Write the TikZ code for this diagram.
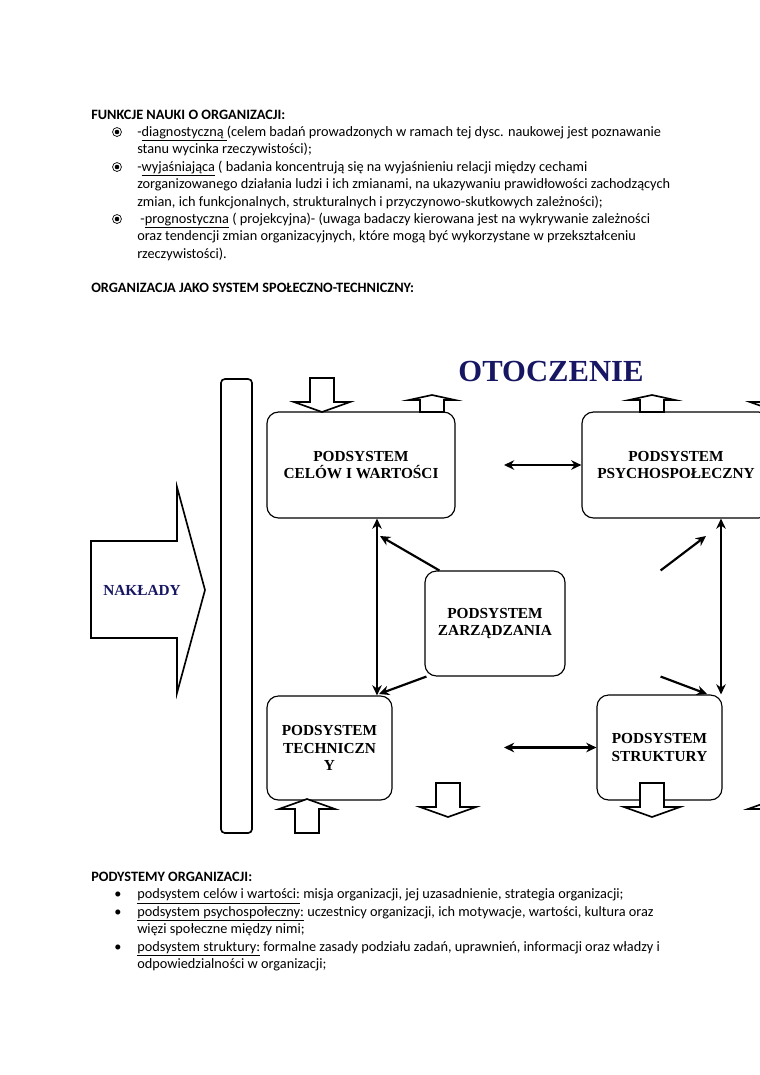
\documentclass[tikz,border=0pt]{standalone}
\usepackage{fontspec}
\setmainfont{Carlito}
\newfontfamily\tnr{Liberation Serif}
\usetikzlibrary{arrows.meta, positioning, calc}
\definecolor{otnavy}{RGB}{22,22,98}

\begin{document}
\begin{tikzpicture}[x=0.7833pt, y=-0.7833pt,
  txt/.style={anchor=base west, inner sep=0pt, font=\fontsize{11.2pt}{13.4pt}\selectfont},
  head/.style={txt, font=\fontsize{11.2pt}{13.4pt}\selectfont\bfseries},
  circbul/.style={circle, draw, line width=0.55pt, minimum size=7pt, inner sep=0pt, path picture={\fill (path picture bounding box.center) circle (1.8pt);}},
  sub/.style={rectangle, rounded corners=9pt, draw, line width=0.9pt, align=center, font=\tnr\fontsize{12pt}{14pt}\selectfont\bfseries},
  dbl/.style={{Stealth[length=8pt, width=7.5pt]}-{Stealth[length=8pt, width=7.5pt]}, line width=1.7pt},
  arr/.style={-{Stealth[length=8pt, width=7.5pt]}, line width=1.7pt},
  blk/.style={draw, fill=white, line width=1.3pt, line join=miter}
]
\useasboundingbox (0,0) rectangle (760,1075);
\clip (0,0) rectangle (760,1075);
% functions
\node[head] (h1) at (91,119.5) {FUNKCJE NAUKI O ORGANIZACJI:};
\foreach \y [count=\i] in {132,167,219}
  \node[circbul] (b\i) at (117,\y) {};
\node[txt] (f1) at (137,136.5) {-\underline{diagnostyczną }(celem badań prowadzonych w ramach tej dysc. naukowej jest poznawanie};
\node[txt] (f2) at (137,153.9) {stanu wycinka rzeczywistości);};
\node[txt] (f3) at (137,171.3) {-\underline{wyjaśniająca} ( badania koncentrują się na wyjaśnieniu relacji między cechami};
\node[txt] (f4) at (137,188.7) {zorganizowanego działania ludzi i ich zmianami, na ukazywaniu prawidłowości zachodzących};
\node[txt] (f5) at (137,206.1) {zmian, ich funkcjonalnych, strukturalnych i przyczynowo-skutkowych zależności);};
\node[txt] (f6) at (137,223.5) {\ -\underline{prognostyczna} ( projekcyjna)- (uwaga badaczy kierowana jest na wykrywanie zależności};
\node[txt] (f7) at (137,240.9) {oraz tendencji zmian organizacyjnych, które mogą być wykorzystane w przekształceniu};
\node[txt] (f8) at (137,258.3) {rzeczywistości).};
\node[head] (h2) at (91,292.5) {ORGANIZACJA JAKO SYSTEM SPOŁECZNO-TECHNICZNY:};

% environment and inputs
\node[font=\tnr\fontsize{24pt}{28pt}\selectfont\bfseries, text=otnavy] (oto) at (551,371) {OTOCZENIE};
\node[draw, rounded corners=3pt, line width=1.3pt, minimum width=24.3pt, minimum height=355.6pt] (bar) at (236.5,606) {};
\draw[blk] (91,541) -- (177,541) -- (177,487) -- (205,590) -- (177,693) -- (177,638) -- (91,638) -- cycle;
\node[font=\tnr\fontsize{12pt}{14pt}\selectfont\bfseries, text=otnavy] (nak) at (142,590) {NAKŁADY};

% subsystems
\node[sub, minimum width=147.3pt, minimum height=83pt] (cel) at (361,465) {PODSYSTEM\\CELÓW I WARTOŚCI};
\node[sub, minimum width=147.3pt, minimum height=83pt] (psy) at (676,465) {PODSYSTEM\\PSYCHOSPOŁECZNY};
\node[sub, minimum width=109.7pt, minimum height=82.2pt] (zar) at (495,623.5) {PODSYSTEM\\ZARZĄDZANIA};
\node[sub, minimum width=97.9pt, minimum height=81.5pt] (tec) at (329.5,748) {PODSYSTEM\\TECHNICZN\\Y};
\node[sub, minimum width=97.9pt, minimum height=82.2pt] (str) at (659.5,747.5) {PODSYSTEM\\STRUKTURY};

% links
\coordinate (cp) at (504,465);
\coordinate (ts) at (504,747.5);
\coordinate (vl) at (377,0);
\coordinate (vr) at (721,0);
\draw[dbl] (cp) -- (psy.west);
\draw[dbl] (ts) -- (str.west);
\draw[dbl] (cel.south -| vl) -- (tec.north -| vl);
\draw[dbl] (psy.south -| vr) -- (str.north -| vr);
\coordinate (za) at (380,536);
\coordinate (zb) at (706,536);
\coordinate (zc) at (379,694);
\coordinate (zd) at (707,694);
\draw[arr] ($(zar.north west)+(15,0)$) -- (za);
\draw[arr] ($(zar.north east)+(95,0)$) -- (zb);
\draw[arr] ($(zar.south west)+(2,0)$) -- (zc);
\draw[arr] ($(zar.south east)+(95,0)$) -- (zd);

% flows to and from the environment
\foreach \c/\t in {322/378, 448/783, 652/783, 778/378}
  \draw[blk] (\c-12,\t) -- (\c+12,\t) -- (\c+12,\t+24) -- (\c+28,\t+24) -- (\c,\t+34) -- (\c-28,\t+24) -- (\c-12,\t+24) -- cycle;
\foreach \c in {432,652}
  \draw[blk] (\c-12,412) -- (\c-12,400) -- (\c-23,400) -- (\c,395) -- (\c+23,400) -- (\c+12,400) -- (\c+12,412) -- cycle;
\foreach \c in {307,776}
  \draw[blk] (\c-12,833) -- (\c-12,809) -- (\c-28,809) -- (\c,799) -- (\c+28,809) -- (\c+12,809) -- (\c+12,833) -- cycle;

% subsystems list
\node[head] (h3) at (91,881.5) {PODYSTEMY ORGANIZACJI:};
\foreach \y [count=\i] in {898.9,916.3,951.1}
  \node[txt, anchor=base] (d\i) at (118,\y) {\textbullet};
\node[txt] (p1) at (137,898.9) {\underline{podsystem celów i wartości:} misja organizacji, jej uzasadnienie, strategia organizacji;};
\node[txt] (p2) at (137,916.3) {\underline{podsystem psychospołeczny:} uczestnicy organizacji, ich motywacje, wartości, kultura oraz};
\node[txt] (p3) at (137,933.7) {więzi społeczne między nimi;};
\node[txt] (p4) at (137,951.1) {\underline{podsystem struktury:} formalne zasady podziału zadań, uprawnień, informacji oraz władzy i};
\node[txt] (p5) at (137,968.5) {odpowiedzialności w organizacji;};
\end{tikzpicture}
\end{document}
